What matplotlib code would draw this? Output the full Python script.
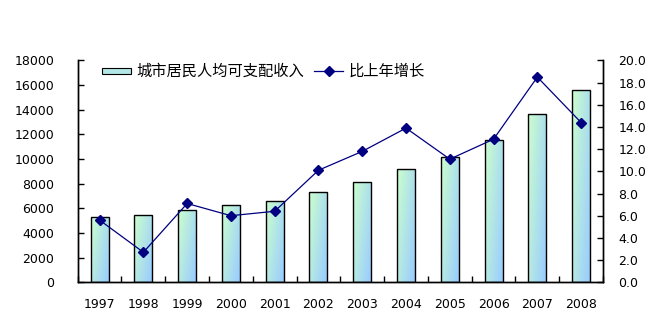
import numpy as np
import matplotlib.pyplot as plt
from matplotlib.colors import LinearSegmentedColormap
from matplotlib.patches import Rectangle
from matplotlib.legend_handler import HandlerPatch

# digits in DejaVu, Chinese falls through to Noto CJK
plt.rcParams['font.family'] = ['DejaVu Sans', 'Noto Sans CJK SC']

years = ['1997', '1998', '1999', '2000', '2001', '2002',
         '2003', '2004', '2005', '2006', '2007', '2008']
income = [5263, 5425, 5830, 6235, 6559, 7287, 8097, 9150, 10202, 11579, 13684, 15628]
growth = [5.6, 2.7, 7.1, 6.0, 6.4, 10.1, 11.8, 13.9, 11.1, 12.9, 18.5, 14.4]
bar_label = '城市居民人均可支配收入'
line_label = '比上年增长'

cmap = LinearSegmentedColormap.from_list('g', ['#ccffcc', '#99ccff'])

fig = plt.figure(figsize=(6.7, 3.34), dpi=100)
ax = fig.add_axes([0.116, 0.155, 0.784, 0.664])
ax2 = ax.twinx()

x = np.arange(len(years))
w = 0.41
bars = ax.bar(x, income, width=w, facecolor='none', edgecolor='black', linewidth=1, zorder=3)

# diagonal gradient fill clipped to each bar
gx, gy = np.meshgrid(np.linspace(0, 1, 40), np.linspace(0, 1, 80))
grad = 0.6 * gx + 0.4 * gy
for b in bars:
    x0, y0 = b.get_x(), b.get_y()
    im = ax.imshow(grad, cmap=cmap, extent=[x0, x0 + b.get_width(), y0, y0 + b.get_height()],
                   origin='upper', aspect='auto', zorder=2, vmin=0, vmax=1)
    im.set_clip_path(b)

ax.set_xlim(-0.5, len(years) - 0.5)
ax.set_ylim(0, 18000)
ax.set_yticks(np.arange(0, 18001, 2000))
ax.set_xticks(np.arange(-0.5, len(years), 1), minor=False)
ax.set_xticklabels([])
ax.set_xticks(x, minor=True)
ax.set_xticklabels(years, minor=True)
ax.tick_params(axis='x', which='major', direction='in', length=4, width=1)
ax.tick_params(axis='x', which='minor', length=0, pad=11, labelsize=9)
ax.tick_params(axis='y', direction='in', length=4, width=1, labelsize=9, pad=17)

ln, = ax2.plot(x, growth, color='#000080', linewidth=0.9, marker='D', markersize=5.5,
               markerfacecolor='#000080', markeredgecolor='#000080', zorder=4)
ax2.set_ylim(0, 20)
ax2.set_yticks(np.arange(0, 20.1, 2))
ax2.set_yticklabels(['%.1f' % v for v in np.arange(0, 20.1, 2)])
ax2.tick_params(axis='y', direction='in', length=4, width=1, labelsize=9, pad=11)

for a in (ax, ax2):
    a.spines['top'].set_visible(False)
    for s in ('left', 'right', 'bottom'):
        a.spines[s].set_linewidth(1)
ax.set_xlim(-0.5, len(years) - 0.5)

handle_bar = Rectangle((0, 0), 1, 1)


class FlatPatch(HandlerPatch):
    def create_artists(self, legend, orig, xd, yd, width, height, fontsize, trans):
        p = Rectangle((xd, yd + height * 0.2), width, height * 0.55,
                      facecolor='#b3e6e6', edgecolor='black', linewidth=0.8, transform=trans)
        return [p]


leg = fig.legend([handle_bar, ln], [bar_label, line_label], loc='upper left',
                 bbox_to_anchor=(0.131, 0.85), ncol=2, frameon=False, fontsize=11,
                 handlelength=1.9, handletextpad=0.35, columnspacing=0.7,
                 handler_map={Rectangle: FlatPatch()})

fig.savefig('out.png', dpi=100)
